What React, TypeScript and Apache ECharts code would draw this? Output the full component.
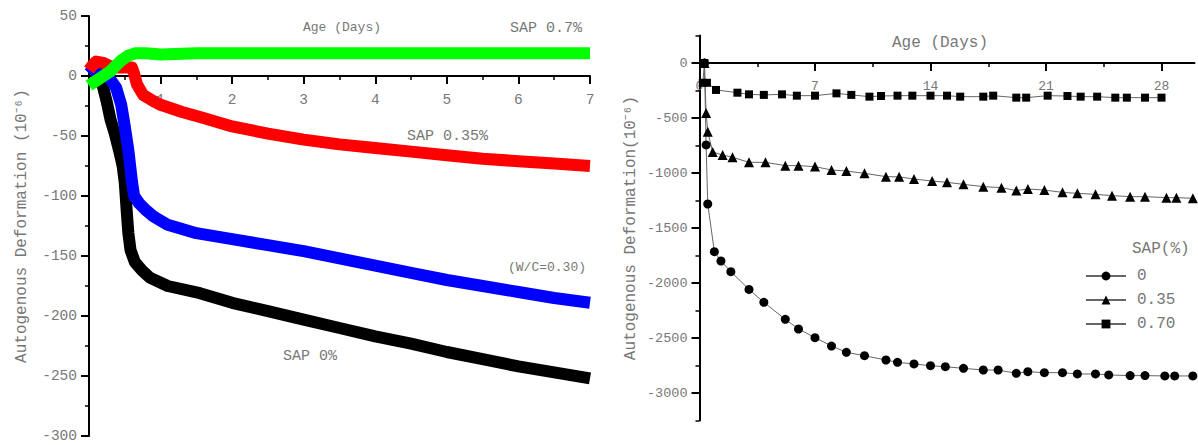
import React, { useEffect, useRef } from "react";
import * as echarts from "echarts";

// ---------- Left chart (7 days, continuous measurement) ----------
const leftXLabels = [1, 2, 3, 4, 5, 6, 7];
const sap0Left: [number, number][] = [
  [0, 4], [0.05, 6], [0.1, 5], [0.15, -2], [0.2, -10], [0.25, -22], [0.3, -36], [0.36, -48],
  [0.42, -62], [0.47, -75], [0.5, -89], [0.53, -115], [0.55, -131], [0.58, -145], [0.64, -155],
  [0.74, -162], [0.85, -168], [1.1, -175], [1.55, -181], [2, -189], [2.5, -196], [3, -203],
  [3.5, -210], [4, -217], [4.5, -223], [5, -230], [5.5, -236], [6, -242], [6.5, -247], [7, -252],
];
const wc030Left: [number, number][] = [
  [0, 2], [0.05, 5], [0.1, 8], [0.15, 7], [0.2, 3], [0.3, -3], [0.38, -10], [0.45, -24],
  [0.5, -42], [0.55, -62], [0.6, -88], [0.63, -100], [0.7, -106], [0.8, -112], [0.9, -117],
  [1.1, -124], [1.5, -131], [2, -136], [2.5, -141], [3, -146], [3.5, -152], [4, -158],
  [4.5, -164], [5, -170], [5.5, -175], [6, -180], [6.5, -185], [7, -189],
];
const sap035Left: [number, number][] = [
  [0, 5], [0.05, 9], [0.1, 12], [0.2, 11], [0.3, 8], [0.4, 7], [0.5, 7], [0.6, 7], [0.63, 2],
  [0.67, -7], [0.76, -16], [0.9, -21], [1, -24], [1.3, -30], [1.6, -35], [2, -42], [2.5, -48],
  [3, -53], [3.5, -57], [4, -60], [4.5, -63], [5, -66], [5.5, -69], [6, -71], [6.5, -73], [7, -75],
];
const sap07Left: [number, number][] = [
  [0, -8], [0.1, -4], [0.2, 0], [0.3, 4], [0.35, 7], [0.45, 13], [0.55, 17], [0.65, 19],
  [0.8, 19], [1, 18], [1.5, 19], [2, 19], [3, 19], [4, 19], [5, 19], [6, 19], [7, 19],
];

// ---------- Right chart (28 days, discrete measurement) ----------
const rightXLabels = [0, 7, 14, 21, 28];
const rightXMinor = [3.5, 10.5, 17.5, 24.5];
const rightYLabels = [0, -500, -1000, -1500, -2000, -2500, -3000];
const rightYMinor = [250, -250, -750, -1250, -1750, -2250, -2750, -3250];
const legendNames = ["0", "0.35", "0.70"];
const sap0Right: [number, number][] = [
  [0.3, 0], [0.4, -745], [0.5, -1282], [0.9, -1715], [1.3, -1800], [1.9, -1897], [3.0, -2058],
  [3.9, -2176], [5.2, -2330], [6.0, -2418], [7.0, -2497], [8.0, -2573], [8.9, -2630],
  [10.0, -2661], [11.3, -2700], [12.0, -2721], [13.0, -2736], [14.0, -2752], [14.9, -2761],
  [16.0, -2776], [17.2, -2791], [18.1, -2791], [19.2, -2821], [19.9, -2806], [20.9, -2815],
  [22.0, -2815], [22.9, -2827], [24.0, -2827], [24.8, -2836], [26.1, -2842], [27.0, -2842],
  [28.2, -2845], [28.8, -2845], [29.9, -2845],
];
const sap035Right: [number, number][] = [
  [0.3, 0], [0.4, -455], [0.5, -625], [0.8, -810], [1.4, -836], [2.0, -857], [3.0, -903],
  [4.0, -903], [5.2, -933], [6.0, -933], [7.0, -942], [8.0, -973], [8.9, -982], [10.0, -1003],
  [11.3, -1033], [12.1, -1035], [13.0, -1055], [14.1, -1073], [15.0, -1085], [16.0, -1103],
  [17.2, -1124], [18.3, -1133], [19.2, -1160], [19.9, -1145], [20.9, -1155], [22.0, -1176],
  [22.9, -1185], [24.0, -1194], [25.0, -1206], [26.1, -1215], [27.0, -1215], [28.3, -1224],
  [28.9, -1224], [29.9, -1230],
];
const sap070Right: [number, number][] = [
  [0.3, 0], [0.2, -180], [0.45, -180], [1.0, -245], [2.3, -270], [3.0, -285], [3.9, -290],
  [5.0, -285], [5.9, -297], [7.0, -297], [8.3, -276], [9.2, -290], [10.3, -306], [11.0, -300],
  [12.0, -297], [12.9, -297], [14.0, -297], [15.0, -297], [15.8, -306], [17.2, -306],
  [17.8, -297], [19.2, -315], [19.8, -315], [21.1, -297], [22.3, -300], [23.1, -306],
  [24.1, -306], [25.2, -315], [25.9, -315], [27.0, -315], [28.0, -315],
];

const FONT = "Liberation Mono";
const GRAY = "#777777";

function bandSeries(name: string, data: [number, number][], color: string) {
  return {
    name,
    type: "line",
    xAxisIndex: 0,
    yAxisIndex: 0,
    data,
    showSymbol: false,
    symbol: "none",
    lineStyle: { color, width: 12, join: "round", cap: "butt" },
    emphasis: { disabled: true },
  };
}

function markerSeries(name: string, data: [number, number][], symbol: string, size: number) {
  return {
    name,
    type: "line",
    xAxisIndex: 1,
    yAxisIndex: 1,
    data,
    symbol,
    symbolSize: size,
    showSymbol: true,
    itemStyle: { color: "#000" },
    lineStyle: { color: "#666", width: 1 },
    emphasis: { disabled: true },
  };
}

export default function App() {
  const ref = useRef<HTMLDivElement>(null);
  useEffect(() => {
    if (!ref.current) return;
    const chart = echarts.init(ref.current, undefined, { renderer: "svg" });
    const black2 = { color: "#000", width: 2 };
    const black15 = { color: "#000", width: 1.5 };
    const label = (size: number) => ({ color: GRAY, fontFamily: FONT, fontSize: size });
    const hiddenX = (gridIndex: number, max: number) => ({
      gridIndex, type: "value", min: 0, max, show: false,
      axisLine: { onZero: false }, splitLine: { show: false },
    });
    const hiddenY = (gridIndex: number) => ({
      gridIndex, type: "value", min: 0, max: 1, show: false,
      axisLine: { onZero: false }, splitLine: { show: false },
    });
    chart.setOption({
      animation: false,
      backgroundColor: "#fff",
      grid: [
        { left: 89, top: 16, width: 501, height: 420, outerBoundsMode: "none", containLabel: false },
        { left: 699.5, top: 35.5, width: 495, height: 385, outerBoundsMode: "none", containLabel: false },
        // strips whose bottom edge sits on the zero line, carrying the visible x axes
        { left: 89, top: 16, width: 501, height: 60, outerBoundsMode: "none", containLabel: false },
        { left: 699.5, top: 35.5, width: 495, height: 27.5, outerBoundsMode: "none", containLabel: false },
      ],
      legend: {
        data: legendNames,
        orient: "vertical",
        left: 1080,
        top: 263,
        itemWidth: 40,
        itemHeight: 11,
        itemGap: 8,
        textStyle: { color: GRAY, fontFamily: FONT, fontSize: 16, padding: [0, 0, 0, 6] },
        selectedMode: false,
      },
      xAxis: [
        hiddenX(0, 7),
        hiddenX(1, 30),
        {
          gridIndex: 2,
          type: "value",
          min: 0,
          max: 7,
          interval: 1,
          position: "bottom",
          axisLine: { show: true, onZero: false, lineStyle: black2 },
          axisTick: { show: true, length: 8, lineStyle: black2 },
          minorTick: { show: true, splitNumber: 2, length: 4, lineStyle: black15 },
          axisLabel: {
            ...label(14.5),
            margin: 16,
            formatter: (v: number) => (leftXLabels.indexOf(v) >= 0 ? String(v) : ""),
          },
          splitLine: { show: false },
          minorSplitLine: { show: false },
        },
        {
          gridIndex: 3,
          type: "value",
          min: 0,
          max: 30,
          position: "bottom",
          axisLine: { show: true, onZero: false, lineStyle: black2 },
          axisTick: { show: true, length: 8, customValues: rightXLabels.slice(1), lineStyle: black2 },
          axisLabel: { ...label(13), margin: 17, customValues: rightXLabels, formatter: (v: number) => String(v) },
          splitLine: { show: false },
        },
        {
          gridIndex: 3,
          type: "value",
          min: 0,
          max: 30,
          position: "bottom",
          axisLine: { show: false, onZero: false },
          axisTick: { show: true, length: 4, customValues: rightXMinor, lineStyle: black15 },
          axisLabel: { show: false },
          splitLine: { show: false },
        },
      ],
      yAxis: [
        {
          gridIndex: 0,
          type: "value",
          min: -300,
          max: 50,
          interval: 50,
          position: "left",
          axisLine: { show: true, onZero: false, lineStyle: black2 },
          axisTick: { show: true, length: 8, lineStyle: black2 },
          minorTick: { show: true, splitNumber: 2, length: 4, lineStyle: black15 },
          axisLabel: { ...label(14.5), margin: 12, formatter: (v: number) => String(v) },
          splitLine: { show: false },
          minorSplitLine: { show: false },
          name: "Autogenous Deformation (10⁻⁶)",
          nameLocation: "middle",
          nameRotate: 90,
          nameGap: 59,
          nameTextStyle: { color: GRAY, fontFamily: FONT, fontSize: 16 },
        },
        {
          gridIndex: 1,
          type: "value",
          min: -3250,
          max: 250,
          position: "left",
          axisLine: { show: true, onZero: false, lineStyle: black2 },
          axisTick: { show: true, length: 8, customValues: rightYLabels, lineStyle: black2 },
          axisLabel: { ...label(13.5), margin: 12, customValues: rightYLabels, formatter: (v: number) => String(v) },
          splitLine: { show: false },
          name: "Autogenous Deformation(10⁻⁶)",
          nameLocation: "middle",
          nameRotate: 90,
          nameGap: 61,
          nameTextStyle: { color: GRAY, fontFamily: FONT, fontSize: 16 },
        },
        {
          gridIndex: 1,
          type: "value",
          min: -3250,
          max: 250,
          position: "left",
          axisLine: { show: false, onZero: false },
          axisTick: { show: true, length: 4, customValues: rightYMinor, lineStyle: black15 },
          axisLabel: { show: false },
          splitLine: { show: false },
        },
        hiddenY(2),
        hiddenY(3),
      ],
      series: [
        bandSeries("SAP 0%", sap0Left, "#000000"),
        bandSeries("W/C=0.30", wc030Left, "#0000ff"),
        bandSeries("SAP 0.35%", sap035Left, "#ff0000"),
        bandSeries("SAP 0.7%", sap07Left, "#00ff00"),
        markerSeries(legendNames[0], sap0Right, "circle", 9),
        markerSeries(legendNames[1], sap035Right, "triangle", 10),
        markerSeries(legendNames[2], sap070Right, "rect", 8),
      ],
      graphic: [
        { type: "text", left: 303, top: 21, style: { text: "Age (Days)", fill: GRAY, font: `13px ${FONT}` } },
        { type: "text", left: 510, top: 21, style: { text: "SAP 0.7%", fill: GRAY, font: `15px ${FONT}` } },
        { type: "text", left: 407, top: 129, style: { text: "SAP 0.35%", fill: GRAY, font: `15px ${FONT}` } },
        { type: "text", left: 508, top: 261, style: { text: "(W/C=0.30)", fill: GRAY, font: `13px ${FONT}` } },
        { type: "text", left: 283, top: 349, style: { text: "SAP 0%", fill: GRAY, font: `15px ${FONT}` } },
        { type: "text", left: 892, top: 35, style: { text: "Age (Days)", fill: GRAY, font: `16px ${FONT}` } },
        { type: "text", left: 1132, top: 241, style: { text: "SAP(%)", fill: GRAY, font: `16px ${FONT}` } },
      ],
    });
    return () => chart.dispose();
  }, []);
  return (
    <div
      ref={ref}
      style={{ position: "absolute", left: 0, top: 0, width: 1198, height: 445, background: "#fff" }}
    />
  );
}
